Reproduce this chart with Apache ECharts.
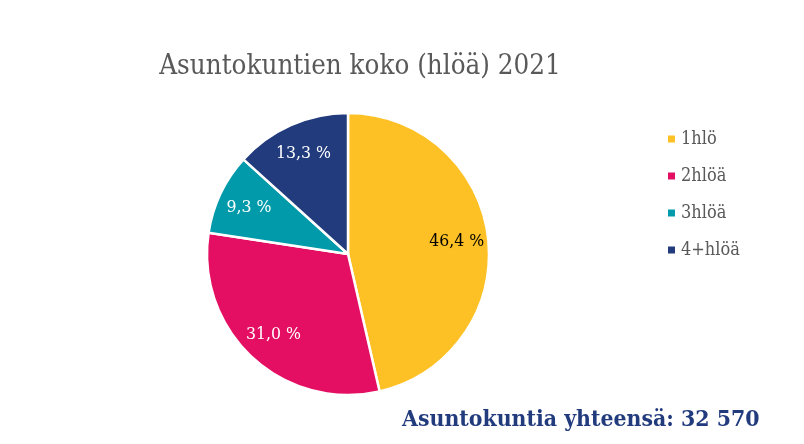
<!DOCTYPE html>
<html>
<head>
<meta charset="utf-8">
<script src="https://cdn.jsdelivr.net/npm/echarts@6/dist/echarts.min.js"></script>
<style>
  html, body { margin: 0; padding: 0; background: #fff; }
  #chart { width: 804px; height: 444px; }
</style>
</head>
<body>
<div id="chart"></div>
<script>
  // data
  const categories = ['1hlö', '2hlöä', '3hlöä', '4+hlöä']
  const shares = [46.4, 31.0, 9.3, 13.3]
  const colors = ['#FEC125', '#E40F63', '#009AAA', '#213B7D']
  const labelColors = ['#000000', '#ffffff', '#ffffff', '#ffffff']
  const totalText = 'Asuntokuntia yhteensä: 32 570'

  const serif = '"DejaVu Serif Condensed", "DejaVu Serif", serif'
  const fmt = p => p.value.toFixed(1).replace('.', ',') + ' %'

  // visible pie, no labels
  const mainData = categories.map((name, i) => ({
    name,
    value: shares[i],
    itemStyle: { color: colors[i] }
  }))
  // invisible ring on top, its inside labels land ~3/4 of the radius out
  const ringData = categories.map((name, i) => ({
    name,
    value: shares[i],
    itemStyle: { color: 'rgba(0,0,0,0)', borderWidth: 0 },
    label: { color: labelColors[i] }
  }))

  const chart = echarts.init(document.getElementById('chart'))
  chart.setOption({
    animation: false,
    title: {
      text: 'Asuntokuntien koko (hlöä) 2021',
      left: 355,
      top: 48,
      textAlign: 'center',
      textStyle: { fontFamily: serif, fontWeight: 'normal', fontSize: 27.5, color: '#595959' }
    },
    legend: {
      orient: 'vertical',
      left: 661,
      top: 125,
      itemWidth: 9,
      itemHeight: 9,
      itemGap: 19,
      icon: 'rect',
      data: categories,
      textStyle: { fontFamily: serif, fontSize: 18, color: '#595959' }
    },
    graphic: [{
      type: 'text',
      left: 402,
      top: 409,
      style: {
        text: totalText,
        font: 'bold 22.8px ' + serif,
        fill: '#213B7D'
      }
    }],
    series: [{
      type: 'pie',
      center: [348, 254],
      radius: 141,
      startAngle: 90,
      clockwise: true,
      data: mainData,
      itemStyle: { borderColor: '#ffffff', borderWidth: 2.5 },
      label: { show: false },
      labelLine: { show: false },
      emphasis: { disabled: true }
    }, {
      type: 'pie',
      center: [348, 254],
      radius: [72, 141],
      startAngle: 90,
      clockwise: true,
      silent: true,
      legendHoverLink: false,
      data: ringData,
      label: { position: 'inside', formatter: fmt, fontFamily: serif, fontSize: 17.5 },
      labelLine: { show: false },
      emphasis: { disabled: true }
    }]
  })
</script>
</body>
</html>
